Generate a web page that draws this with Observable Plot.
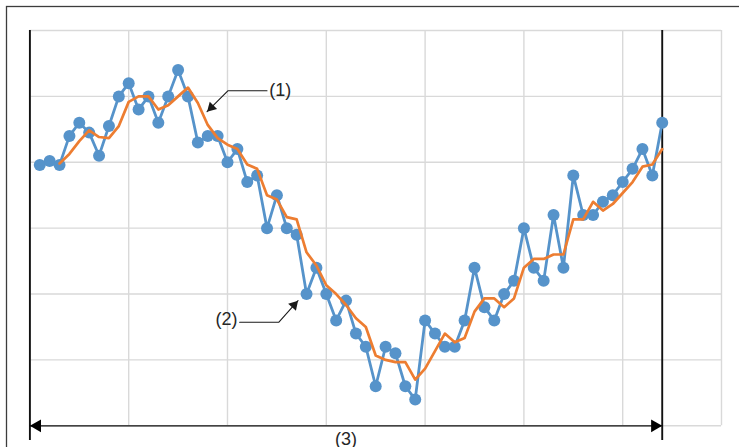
<!DOCTYPE html>
<html>
<head>
<meta charset="utf-8">
<script src="https://cdn.jsdelivr.net/npm/d3@7"></script>
<script src="https://cdn.jsdelivr.net/npm/@observablehq/plot@0.6"></script>
<style>
  html, body { margin: 0; padding: 0; background: #fff; }
  svg { display: block; }
</style>
</head>
<body>
<div id="chart"></div>
<script>
const values = [39.6, 40.2, 39.6, 44, 46, 44.5, 41, 45.5, 50, 52,
                48, 50, 46, 50, 54, 50, 43, 44, 44, 40,
                42, 37, 38, 30, 35, 30, 29, 20, 24, 20,
                16, 19, 14, 12, 6, 12, 11, 6, 4, 16,
                14, 12, 12, 16, 24, 18, 16, 20, 22, 30,
                24, 22, 32, 24, 38, 32, 32, 34, 35, 37,
                39, 42, 38, 46];
const periods = values.map((_, i) => i);

// Grid positions (no tick labels in the reference)
const xGrid = [-1, 9, 19, 29, 39, 49, 59, 69];
const yGrid = [0, 10, 20, 30, 40, 50, 60];

// Span marked by (3): from start to last observation
const spanStart = -1;
const spanEnd = 63;
const spanLabel = "(3)";

// Callouts
const callout1 = [{x: 23.0, y: 50.86}, {x: 19.06, y: 50.86}, {x: 16.93, y: 47.67}];
const callout2 = [{x: 20.23, y: 15.71}, {x: 24.18, y: 15.71}, {x: 26.14, y: 19.0}];
const labels = [
  {x: 24.35, y: 51.0, text: "(1)"},
  {x: 18.9, y: 16.2, text: "(2)"},
  {x: 31, y: -2.0, text: spanLabel}
];

const data = periods.map(i => ({i, v: values[i]}));

const blue = "#5693CA";
const orange = "#ED7D31";
const ink = "#1a1a1a";

const chart = Plot.plot({
  width: 739,
  height: 447,
  marginLeft: 29.4,
  marginRight: 18,
  marginTop: 30,
  marginBottom: 21.7,
  x: {domain: [-1, 69], axis: null},
  y: {domain: [0, 60], axis: null},
  style: {background: "#fff", fontFamily: "'Liberation Sans', Arial, sans-serif"},
  marks: [
    Plot.frame({stroke: "#3c3c3c", strokeWidth: 1.3, insetLeft: -23.4, insetTop: -24, insetRight: -60, insetBottom: -60}),
    Plot.ruleX(xGrid, {stroke: "#d9d9d9", strokeWidth: 1.4}),
    Plot.ruleY(yGrid, {stroke: "#d9d9d9", strokeWidth: 1.4}),
    Plot.ruleX([spanStart, spanEnd], {stroke: "#111", strokeWidth: 1.9, insetBottom: -14.7}),
    // span arrow (3)
    Plot.ruleY([{a: spanStart, b: spanEnd}], {x1: "a", x2: "b", y: () => 0, stroke: "#111", strokeWidth: 1.3}),
    Plot.dot([spanStart], {x: d => d, y: () => 0, symbol: "triangle", r: 4.76, rotate: -90, dx: 7.4, fill: "#000", stroke: "none"}),
    Plot.dot([spanEnd], {x: d => d, y: () => 0, symbol: "triangle", r: 4.76, rotate: 90, dx: -7.4, fill: "#000", stroke: "none"}),
    // blue series
    Plot.line(data, {x: "i", y: "v", stroke: blue, strokeWidth: 2.8}),
    Plot.dot(data, {x: "i", y: "v", r: 6, fill: blue, stroke: "none"}),
    // orange: 3-period moving average of the series
    Plot.line(data, Plot.windowY({k: 3, anchor: "end", reduce: V => (V.length === 3 ? d3.mean(V) : NaN)}, {x: "i", y: "v", stroke: orange, strokeWidth: 2.7})),
    // callouts
    Plot.line(callout1, {x: "x", y: "y", stroke: ink, strokeWidth: 1.1}),
    Plot.line(callout2, {x: "x", y: "y", stroke: ink, strokeWidth: 1.1}),
    Plot.dot(callout1.slice(2), {x: "x", y: "y", symbol: "triangle", r: 3.86, rotate: 225, dx: 4.24, dy: -4.24, fill: ink, stroke: "none"}),
    Plot.dot(callout2.slice(2), {x: "x", y: "y", symbol: "triangle", r: 3.86, rotate: 41.8, dx: -4.0, dy: 4.48, fill: ink, stroke: "none"}),
    Plot.text(labels, {x: "x", y: "y", text: "text", fontSize: 18, fill: "#262626"})
  ]
});

document.getElementById("chart").appendChild(chart);
</script>
</body>
</html>
